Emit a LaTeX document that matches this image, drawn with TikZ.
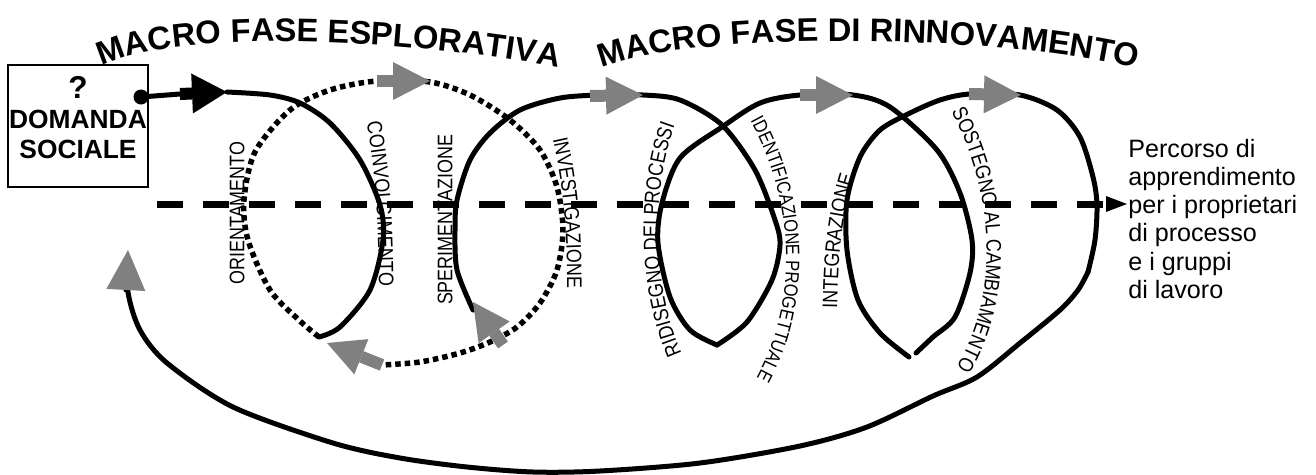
\documentclass[tikz,border=0pt]{standalone}
\usepackage{fontspec}
\setmainfont{Liberation Sans}
\newfontfamily\narrowsans[FakeStretch=0.85]{Liberation Sans}
\usetikzlibrary{arrows.meta,decorations.text}
\definecolor{arrowgrey}{gray}{0.5}
\newcommand\lblfont{\narrowsans\fontsize{12}{14}\selectfont}
\newcommand\smalllblfont{\narrowsans\fontsize{11}{13}\selectfont}
\newcommand\phasefont{\bfseries\fontsize{18.6}{20}\selectfont}
\tikzset{
  loopline/.style={line width=0.1cm, line cap=round},
  dotline/.style={line width=0.11cm, dash pattern=on 0.11cm off 0.08cm},
  greyarrow/.style={draw=arrowgrey, line width=0.24cm, -{Triangle[length=0.74cm,width=0.76cm,line width=0pt]}},
  blackarrow/.style={draw=black, line width=0.24cm, -{Triangle[length=0.7cm,width=0.8cm,line width=0pt]}},
  dashline/.style={line width=0.14cm, dash pattern=on 0.52cm off 0.4cm, -{Triangle[length=0.42cm,width=0.32cm,line width=0pt]}},
  steplabel/.style={decorate, decoration={text along path, text align=center, text={|\lblfont|#1}}},
  smallsteplabel/.style={decorate, decoration={text along path, text align=center, text={|\smalllblfont|#1}}},
  phasetitle/.style={decorate, decoration={text along path, text align=center, text={|\phasefont|#1}}}
}
\begin{document}
\begin{tikzpicture}[x=0.02cm, y=0.02cm]
\useasboundingbox (0,0) rectangle (1316,-474);

% Titles
\path[phasetitle={MACRO FASE ESPLORATIVA}] (98,-68) .. controls (165,-30) and (390,-36) .. (562,-68);
\path[phasetitle={MACRO FASE DI RINNOVAMENTO}] (596,-70) .. controls (685,-30) and (1000,-33) .. (1142,-70);

% Social demand box
\node[draw, line width=0.04cm, minimum width=2.8cm, minimum height=2.44cm, inner sep=0] (demand) at (78,-126) {};
\node[font=\bfseries\fontsize{15}{17}\selectfont, align=center, anchor=north, inner sep=0] (demandtext) at (78,-76) {{\fontsize{18}{17}\selectfont ?}\\DOMANDA\\SOCIALE};
\node[circle, fill, inner sep=0, minimum size=0.3cm] (dot) at (141,-97) {};

% Key points
\coordinate (stem) at (180,-94);
\coordinate (blacktip) at (227,-92);
\coordinate (junction) at (319,-337);
\coordinate (dotend) at (382,-365);
\coordinate (loopstart) at (473,-310);
\coordinate (cuspa) at (717,-345);
\coordinate (cuspb) at (916,-353);
\coordinate (cuspc) at (909,-357);
\coordinate (bend) at (1088,-272);
\coordinate (returntip) at (128,-250);

% Loops
\draw[loopline] (dot.center) -- (stem);
\draw[loopline] plot[smooth] coordinates {(blacktip) (270,-95) (300,-103) (330,-123) (360,-160) (380,-205) (383,-240) (370,-290) (340,-327) (junction)};
\draw[dotline] plot[smooth] coordinates {(junction) (300,-321) (270,-290) (248,-240) (244,-200) (255,-152) (290,-110) (330,-90) (377,-81) (430,-82) (470,-95) (510,-120) (540,-150) (557,-187) (563,-230) (557,-270) (540,-303) (517,-327) (490,-342) (460,-353) (420,-362) (dotend)};
\draw[loopline] plot[smooth] coordinates {(loopstart) (457,-270) (455,-230) (457,-200) (470,-160) (490,-133) (520,-110) (560,-98) (600,-95) (643,-95) (680,-100) (722,-125) (755,-170) (775,-220) (780,-245) (772,-280) (747,-322) (cuspa)};
\draw[loopline] plot[smooth] coordinates {(cuspa) (690,-330) (670,-297) (658,-243) (662,-203) (680,-158) (722,-127) (760,-103) (800,-95) (853,-95) (890,-107) (937,-150) (960,-193) (972,-240) (970,-273) (955,-317) (933,-337) (cuspb)};
\draw[loopline] plot[smooth] coordinates {(cuspc) (880,-333) (858,-300) (847,-250) (847,-200) (860,-157) (880,-130) (908,-114) (940,-100) (970,-94) (1020,-95) (1057,-110) (1080,-137) (1093,-177) (1097,-205) (1095,-240) (bend)};
\draw[loopline, -{Triangle[length=0.8cm,width=0.78cm,line width=0pt,color=arrowgrey,fill=arrowgrey]}] plot[smooth] coordinates {(bend) (1078,-290) (1060,-310) (1020,-343) (977,-377) (933,-396) (867,-427) (800,-446) (700,-463) (600,-471) (533,-472) (467,-467) (400,-458) (333,-443) (233,-407) (167,-363) (140,-330) (128,-292) (returntip)};

% Step labels
\node[rotate=90, font=\lblfont, inner sep=0] (orient) at (237,-213) {ORIENTAMENTO};
\node[rotate=90, font=\lblfont, inner sep=0] (speriment) at (445,-220) {SPERIMENTAZIONE};
\path[steplabel={COINVOLGIMENTO}] (362,-100) .. controls (375,-160) and (379,-210) .. (379,-310);
\path[steplabel={INVESTIGAZIONE}] (548,-118) .. controls (563,-180) and (568,-220) .. (567,-310);
\path[steplabel={RIDISEGNO DEI PROCESSI}] (690,-370) .. controls (650,-300) and (648,-180) .. (682,-108);
\path[smallsteplabel={IDENTIFICAZIONE PROGETTUALE}] (738,-100) .. controls (797,-190) and (805,-310) .. (744,-398);
\path[steplabel={INTEGRAZIONE}] (837,-320) .. controls (838,-260) and (840,-215) .. (858,-165);
\path[steplabel={SOSTEGNO AL CAMBIAMENTO}] (944,-98) .. controls (995,-185) and (1005,-300) .. (948,-380);

% Learning path
\coordinate (dashstart) at (157,-204);
\coordinate (dashend) at (1127,-204);
\draw[dashline] (dashstart) -- (dashend);
\node[font=\fontsize{14.3}{16}\selectfont, align=left, anchor=north west, inner sep=0] (pathtext) at (1128,-139) {Percorso di\\apprendimento\\per i proprietari\\di processo\\e i gruppi\\di lavoro};

% Arrow heads
\draw[blackarrow] (stem) -- (blacktip);
\draw[greyarrow] (377,-81) -- (430,-81);
\draw[greyarrow] (590,-96) -- (643,-95);
\draw[greyarrow] (800,-95) -- (853,-95);
\draw[greyarrow] (969,-94) -- (1021,-95);
\draw[greyarrow] (503,-345) -- (473,-302);
\draw[greyarrow] (dotend) -- (327,-343);
\end{tikzpicture}
\end{document}
